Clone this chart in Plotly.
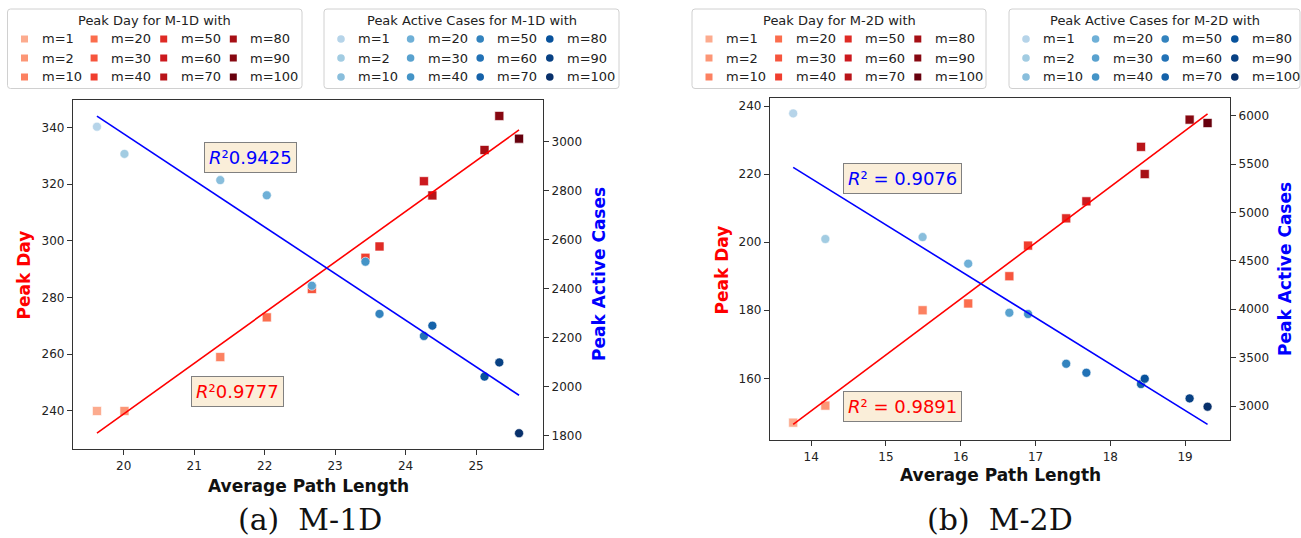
import numpy as np
import plotly.graph_objects as go
from plotly.colors import sample_colorscale, make_colorscale, sequential

W, H = 1301, 538

# ---------------- data ----------------
m_values = [1, 2, 10, 20, 30, 40, 50, 60, 70, 80, 90, 100]
m_labels = [f"m={m}" for m in m_values]

apl_1d = [19.62, 20.01, 21.37, 22.03, 22.67, 23.43, 23.63, 24.26, 24.38, 25.12, 25.33, 25.61]
peak_day_1d = [240, 240, 259, 273, 283, 294, 298, 321, 316, 332, 344, 336]
peak_cases_1d = [3061, 2950, 2843, 2781, 2412, 2510, 2297, 2207, 2249, 2041, 2099, 1810]

apl_2d = [13.76, 14.19, 15.49, 16.10, 16.65, 16.90, 17.41, 17.68, 18.41, 18.46, 19.06, 19.30]
peak_day_2d = [147, 152, 180, 182, 190, 199, 207, 212, 228, 220, 236, 235]
peak_cases_2d = [6024, 4726, 4746, 4471, 3964, 3951, 3437, 3344, 3227, 3282, 3079, 2993]

r2_day_1d, r2_cases_1d = "0.9777", "0.9425"
r2_day_2d, r2_cases_2d = "0.9891", "0.9076"

xticks_1d = [20, 21, 22, 23, 24, 25]
yticks_day_1d = [240, 260, 280, 300, 320, 340]
yticks_cases_1d = [1800, 2000, 2200, 2400, 2600, 2800, 3000]
xticks_2d = [14, 15, 16, 17, 18, 19]
yticks_day_2d = [160, 180, 200, 220, 240]
yticks_cases_2d = [3000, 3500, 4000, 4500, 5000, 5500, 6000]

# ---------------- styles ----------------
levels = list(np.linspace(0.3, 1.0, len(m_values)))
reds = sample_colorscale(make_colorscale(sequential.Reds), levels)
blues = sample_colorscale(make_colorscale(sequential.Blues), levels)

FONT = "DejaVu Sans"
RED = "#ff0000"
BLUE = "#0000ff"
SPINE = "#333333"


def px(x):
    return x / W


def py(y):
    return 1 - y / H


fig = go.Figure()


def add_panel(xs, days, cases, xa, ya_day, ya_case):
    fig.add_trace(go.Scatter(
        x=xs, y=days, mode="markers", xaxis=xa, yaxis=ya_day, showlegend=False,
        text=m_labels, hovertemplate="%{text}<br>APL %{x}<br>Peak day %{y}<extra></extra>",
        marker=dict(symbol="square", size=9, color=reds, line=dict(color="white", width=0.6))))
    k, b = np.polyfit(xs, days, 1)
    lx = np.array([min(xs), max(xs)])
    fig.add_trace(go.Scatter(x=lx, y=k * lx + b, mode="lines", xaxis=xa, yaxis=ya_day,
                             showlegend=False, hoverinfo="skip", line=dict(color=RED, width=1.6)))
    fig.add_trace(go.Scatter(
        x=xs, y=cases, mode="markers", xaxis=xa, yaxis=ya_case, showlegend=False,
        text=m_labels, hovertemplate="%{text}<br>APL %{x}<br>Peak cases %{y}<extra></extra>",
        marker=dict(symbol="circle", size=9, color=blues, line=dict(color="white", width=0.6))))
    k2, b2 = np.polyfit(xs, cases, 1)
    fig.add_trace(go.Scatter(x=lx, y=k2 * lx + b2, mode="lines", xaxis=xa, yaxis=ya_case,
                             showlegend=False, hoverinfo="skip", line=dict(color=BLUE, width=1.6)))


add_panel(apl_1d, peak_day_1d, peak_cases_1d, "x", "y", "y2")
add_panel(apl_2d, peak_day_2d, peak_cases_2d, "x2", "y3", "y4")

axc = dict(showline=True, linecolor=SPINE, linewidth=1.2, ticks="outside", ticklen=5,
           tickwidth=1, tickcolor=SPINE, showgrid=False, zeroline=False,
           tickfont=dict(family=FONT, size=12, color="#222"), automargin=False, fixedrange=True)

# panel pixel boxes
L = dict(x0=73, x1=543, y0=99.5, y1=449)
R = dict(x0=770, x1=1230, y0=98, y1=440)

fig.update_layout(
    xaxis=dict(domain=[px(L["x0"]), px(L["x1"])], anchor="y", range=[19.28, 25.95],
               tickvals=xticks_1d, mirror=True, **axc),
    yaxis=dict(domain=[py(L["y1"]), py(L["y0"])], anchor="x", range=[226.6, 349.8],
               tickvals=yticks_day_1d, mirror=True, **axc),
    yaxis2=dict(overlaying="y", side="right", anchor="x", range=[1745.6, 3172],
                tickvals=yticks_cases_1d, **axc),
    xaxis2=dict(domain=[px(R["x0"]), px(R["x1"])], anchor="y3", range=[13.45, 19.60],
                tickvals=xticks_2d, mirror=True, **axc),
    yaxis3=dict(domain=[py(R["y1"]), py(R["y0"])], anchor="x2", range=[141.9, 242.35],
                tickvals=yticks_day_2d, mirror=True, **axc),
    yaxis4=dict(overlaying="y3", side="right", anchor="x2", range=[2649, 6183],
                tickvals=yticks_cases_2d, **axc),
)

annotations = []
shapes = []


def label(x, y, text, size, color="#111", bold=False, angle=0, family=FONT, **kw):
    annotations.append(dict(
        xref="paper", yref="paper", x=px(x), y=py(y), text=text, showarrow=False,
        xanchor="center", yanchor="middle", textangle=angle,
        font=dict(family=family, size=size, color=color, weight="bold" if bold else "normal"), **kw))


# axis titles
for (x, y, t, c, a) in [
    (23.5, 275, "Peak Day", RED, -90),
    (598.5, 274.5, "Peak Active Cases", BLUE, -90),
    (308, 485.5, "Average Path Length", "#111", 0),
    (721.5, 270, "Peak Day", RED, -90),
    (1285, 269, "Peak Active Cases", BLUE, -90),
    (1000, 475, "Average Path Length", "#111", 0),
]:
    label(x, y, t, 17, color=c, bold=True, angle=a)

# R^2 boxes
box = dict(bgcolor="rgba(245,222,179,0.5)", bordercolor="#808080", borderwidth=1, borderpad=4)
label(251, 157.5, "<i>R</i>\u00b2" + r2_cases_1d, 18, color=BLUE, **box)
label(237, 391.5, "<i>R</i>\u00b2" + r2_day_1d, 18, color=RED, **box)
label(902, 178, "<i>R</i>\u00b2 = " + r2_cases_2d, 18, color=BLUE, **box)
label(902, 406.5, "<i>R</i>\u00b2 = " + r2_day_2d, 18, color=RED, **box)

# captions
label(310, 519, "(a)\u00a0\u00a0M-1D", 30, color="#111", family="DejaVu Serif")
label(1000, 519, "(b)\u00a0\u00a0M-2D", 30, color="#111", family="DejaVu Serif")


# legends (drawn as boxes + markers + text)
def rounded_rect(x0, y0, x1, y1, r=3):
    return (f"M {px(x0 + r)},{py(y0)} L {px(x1 - r)},{py(y0)} "
            f"Q {px(x1)},{py(y0)} {px(x1)},{py(y0 + r)} L {px(x1)},{py(y1 - r)} "
            f"Q {px(x1)},{py(y1)} {px(x1 - r)},{py(y1)} L {px(x0 + r)},{py(y1)} "
            f"Q {px(x0)},{py(y1)} {px(x0)},{py(y1 - r)} L {px(x0)},{py(y0 + r)} "
            f"Q {px(x0)},{py(y0)} {px(x0 + r)},{py(y0)} Z")


def draw_legend(x0, x1, title, colors, symbol):
    shapes.append(dict(type="path", xref="paper", yref="paper", path=rounded_rect(x0, 9, x1, 88.5),
                       line=dict(color="#d0d0d0", width=1), fillcolor="white", layer="above"))
    label((x0 + x1) / 2, 20, title, 13, color="#222")
    rows_y = [39, 58, 77]
    for i, (lab, col) in enumerate(zip(m_labels, colors)):
        c, r = divmod(i, 3)
        mx = x0 + 17 + 69.6 * c
        my = rows_y[r]
        s = 3.5 if symbol == "square" else 3.8
        shapes.append(dict(type="rect" if symbol == "square" else "circle",
                           xref="paper", yref="paper",
                           x0=px(mx - s), x1=px(mx + s), y0=py(my + s), y1=py(my - s),
                           fillcolor=col, line=dict(width=0), layer="above"))
        annotations.append(dict(xref="paper", yref="paper", x=px(mx + 15), y=py(my), text=lab,
                                showarrow=False, xanchor="left", yanchor="middle",
                                font=dict(family=FONT, size=13, color="#222")))


draw_legend(7.5, 302, "Peak Day for M-1D with", reds, "square")
draw_legend(324, 619, "Peak Active Cases for M-1D with", blues, "circle")
draw_legend(692, 986, "Peak Day for M-2D with", reds, "square")
draw_legend(1009, 1300, "Peak Active Cases for M-2D with", blues, "circle")

fig.update_layout(
    width=W, height=H, autosize=False,
    margin=dict(l=0, r=0, t=0, b=0, pad=0),
    template="none",
    paper_bgcolor="white", plot_bgcolor="white",
    font=dict(family=FONT, color="#222"),
    annotations=annotations, shapes=shapes,
    showlegend=False,
)

fig.write_html(
    "out.html",
    config={"displayModeBar": False},
    post_script="document.body.style.margin='0px';document.body.style.overflow='hidden';",
)
